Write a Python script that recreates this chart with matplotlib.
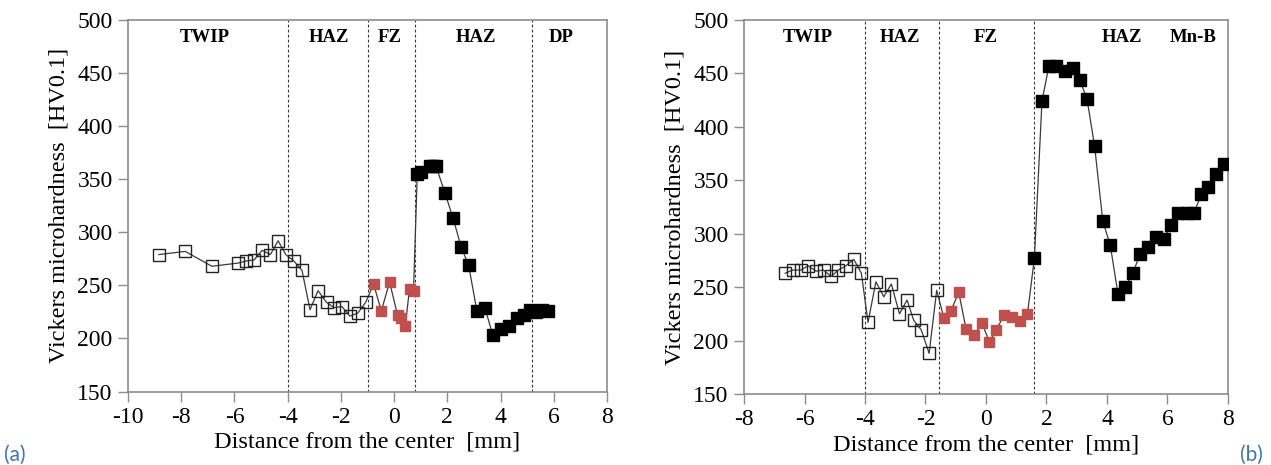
import matplotlib
matplotlib.use("Agg")
import matplotlib.pyplot as plt

plt.rcParams['font.family'] = ['Liberation Serif', 'DejaVu Serif']
plt.rcParams['axes.unicode_minus'] = False

# ---- (a) TWIP / DP ----
a_twip_x = [-8.84, -7.85, -6.85, -5.86, -5.55, -5.26, -4.96, -4.65, -4.36, -4.07,
            -3.77, -3.46, -3.16, -2.86, -2.54, -2.26, -1.96, -1.66, -1.36, -1.07]
a_twip_y = [279, 282, 268, 271, 273, 274, 283, 279, 292, 279,
            273, 264, 227, 245, 234, 229, 230, 221, 224, 234]
a_fz_x = [-0.77, -0.48, -0.17, 0.13, 0.27, 0.42, 0.58, 0.73]
a_fz_y = [251, 226, 253, 222, 219, 212, 247, 245]
a_dp_x = [0.87, 1.02, 1.33, 1.45, 1.58, 1.91, 2.22, 2.52, 2.80, 3.11, 3.41, 3.71,
          4.01, 4.30, 4.60, 4.87, 5.11, 5.34, 5.55, 5.80]
a_dp_y = [355, 357, 362, 362, 362, 337, 313, 286, 269, 226, 229, 203,
          209, 212, 219, 222, 227, 225, 227, 226]
a_bounds = [-4, -1, 0.8, 5.2]
a_zones = ["TWIP", "HAZ", "FZ", "HAZ", "DP"]
a_zone_x = [-7.1, -2.45, -0.17, 3.06, 6.27]

# ---- (b) TWIP / Mn-B ----
b_twip_x = [-6.64, -6.39, -6.12, -5.88, -5.62, -5.37, -5.12, -4.88, -4.63, -4.37, -4.12,
            -3.90, -3.64, -3.38, -3.13, -2.86, -2.61, -2.39, -2.14, -1.88, -1.63]
b_twip_y = [263, 266, 266, 270, 265, 266, 260, 266, 270, 276, 263,
            217, 255, 241, 253, 225, 238, 219, 210, 188, 247]
b_fz_x = [-1.39, -1.16, -0.90, -0.66, -0.40, -0.13, 0.11, 0.34, 0.60, 0.86, 1.11, 1.37]
b_fz_y = [221, 228, 245, 211, 205, 216, 199, 210, 224, 222, 218, 225]
b_mnb_x = [1.60, 1.85, 2.08, 2.33, 2.61, 2.87, 3.10, 3.34, 3.59, 3.86, 4.11, 4.36,
           4.61, 4.85, 5.10, 5.36, 5.61, 5.87, 6.11, 6.36, 6.63, 6.87, 7.12, 7.35,
           7.60, 7.86]
b_mnb_y = [277, 424, 457, 457, 452, 455, 444, 426, 382, 312, 289, 244,
           250, 263, 281, 288, 297, 295, 308, 319, 319, 319, 337, 344,
           356, 365]
b_bounds = [-4, -1.55, 1.6]
b_zones = ["TWIP", "HAZ", "FZ", "HAZ", "Mn-B"]
b_zone_x = [-5.88, -2.83, -0.02, 4.49, 6.84]

red = "#C0504D"
grey = "#8C8C8C"

fig = plt.figure(figsize=(12.71, 4.65), dpi=100)
axa = fig.add_axes([128 / 1271, 73.5 / 465, 479 / 1271, 371.5 / 465])
axb = fig.add_axes([744 / 1271, 71 / 465, 484 / 1271, 374 / 465])


def draw(ax, open_x, open_y, fz_x, fz_y, fill_x, fill_y, bounds, zones, zone_x, xlim):
    allx = open_x + fz_x + fill_x
    ally = open_y + fz_y + fill_y
    ax.plot(allx, ally, color="#3a3a3a", lw=0.9, zorder=2)
    ax.plot(open_x, open_y, ls="none", marker="s", ms=8, mfc="none",
            mec="#222222", mew=1.0, zorder=3)
    ax.plot(fz_x, fz_y, ls="none", marker="s", ms=6.5, mfc=red, mec=red, zorder=3)
    ax.plot(fill_x, fill_y, ls="none", marker="s", ms=8, mfc="black", mec="black", zorder=3)
    for b in bounds:
        ax.axvline(b, color="#333333", lw=0.8, ls=(0, (2.5, 2)), zorder=1)
    for z, zx in zip(zones, zone_x):
        ax.text(zx, 483.5, z, ha="center", va="center", fontsize=13.5,
                fontweight="bold")
    ax.set_xlim(*xlim)
    ax.set_ylim(150, 500)
    xt = list(range(xlim[0], xlim[1] + 1, 2))
    ax.set_xticks(xt)
    ax.set_xticklabels([str(v) for v in xt])
    yt = list(range(150, 501, 50))
    ax.set_yticks(yt)
    ax.set_yticklabels([str(v) for v in yt])
    ax.tick_params(labelsize=17, length=7, width=1, color=grey, pad=4)
    for s in ax.spines.values():
        s.set_color(grey)
        s.set_linewidth(1.2)
    ax.set_xlabel("Distance from the center  [mm]", fontsize=17.5, labelpad=3)
    ax.set_ylabel("Vickers microhardness  [HV0.1]", fontsize=17.5, labelpad=6)


draw(axa, a_twip_x, a_twip_y, a_fz_x, a_fz_y, a_dp_x, a_dp_y,
     a_bounds, a_zones, a_zone_x, (-10, 8))
draw(axb, b_twip_x, b_twip_y, b_fz_x, b_fz_y, b_mnb_x, b_mnb_y,
     b_bounds, b_zones, b_zone_x, (-8, 8))

fig.text(15 / 1271, 1 - 455 / 465, "(a)", fontsize=15, color="#3F74B0",
         family=["Lato", "DejaVu Sans"], ha="center", va="center")
fig.text(1251 / 1271, 1 - 455 / 465, "(b)", fontsize=15, color="#3F74B0",
         family=["Lato", "DejaVu Sans"], ha="center", va="center")

fig.savefig("out.png", dpi=100)
